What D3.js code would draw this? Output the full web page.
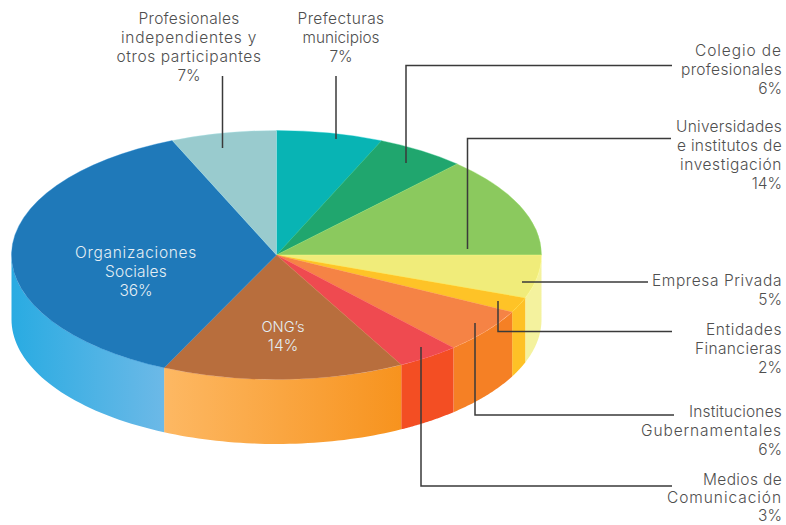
<!DOCTYPE html>
<html><head><meta charset="utf-8">
<script src="https://cdn.jsdelivr.net/npm/d3@7"></script>
<style>html,body{margin:0;background:#fff}svg{display:block}text{font-family:"Inter","Lato",sans-serif;font-weight:300}</style>
</head><body><svg id="c" width="786" height="525"></svg>
<script>
const categories = ["Prefecturas municipios","Colegio de profesionales","Universidades e institutos de investigación","Empresa Privada","Entidades Financieras","Instituciones Gubernamentales","Medios de Comunicación","ONG’s","Organizaciones Sociales","Profesionales independientes y otros participantes"];
const percentLabels = [7,6,14,5,2,6,3,14,36,7];
const drawnShares = [6.48,5.46,13.06,5.6,1.96,5.8,3.84,14.77,36.6,6.43];
const topColors = ["#08b4b4","#20a66e","#8bc95e","#f0ec7a","#fec327","#f58345","#ef4a50","#b86e3d","#1f79b9","#99cbce"];
const wallFrom = ["#08b4b4","#20a66e","#8bc95e","#f4f29e","#fec126","#f58025","#f34e23","#f7931e","#6cb9e7","#99cbce"];
const wallTo   = ["#08b4b4","#20a66e","#8bc95e","#f4f29e","#fec126","#f58025","#f34e23","#fdb863","#29abe2","#99cbce"];
const labelLines = [["Prefecturas","municipios"],["Colegio de","profesionales"],["Universidades","e institutos de","investigación"],["Empresa Privada"],["Entidades","Financieras"],["Instituciones","Gubernamentales"],["Medios de","Comunicación"],["ONG’s"],["Organizaciones","Sociales"],["Profesionales","independientes y","otros participantes"]];
const lineWidths = [[87,77],[87,101],[106,105,102],[130],[76,87],[93,141],[79,115],[43],[122,62],[101,136,145]];
const labelAnchor = [[341,23.5,"middle"],[782,55.5,"end"],[782,131.5,"end"],[782,285.5,"end"],[782,334.5,"end"],[782,416.5,"end"],[782,485,"end"],[283,331.5,"middle"],[136,257.5,"middle"],[189,23.5,"middle"]];
const lineHeights = [19,19,19,19,19,19,18,19,19,19];
const leaders = [
 [[336,139],[336,76]],
 [[406,163],[406,65.5],[672,65.5]],
 [[467.5,249],[467.5,138.5],[671,138.5]],
 [[522,282],[648,282]],
 [[498,301],[498,331.5],[672,331.5]],
 [[475,323],[475,415],[674,415]],
 [[421,347],[421,486],[672,486]],
 [],[],
 [[222.5,148],[222.5,76]]
];
const cx=276.5, cy=255, rx=265, ry=124.5, depth=64.5;
const svg=d3.select("#c"), defs=svg.append("defs");
const pieData=d3.pie().sort(null).value(d=>d)(drawnShares);
const px=a=>cx+rx*Math.sin(a), py=a=>cy-ry*Math.cos(a);

// side walls (front half only)
const wallLine=d3.line().x(d=>d[0]).y(d=>d[1]);
pieData.forEach((p,i)=>{
  const a0=Math.max(p.startAngle,Math.PI/2), a1=Math.min(p.endAngle,3*Math.PI/2);
  if(a1<=a0) return;
  const samples=d3.range(0,41).map(k=>a0+(a1-a0)*k/40);
  const upper=samples.map(a=>[px(a),py(a)]);
  const lower=samples.slice().reverse().map(a=>[px(a),py(a)+depth]);
  const id="w"+i;
  const g=defs.append("linearGradient").attr("id",id).attr("gradientUnits","userSpaceOnUse")
    .attr("x1",px(a0)).attr("x2",px(a1)).attr("y1",0).attr("y2",0);
  g.append("stop").attr("offset",0).attr("stop-color",wallFrom[i]);
  g.append("stop").attr("offset",1).attr("stop-color",wallTo[i]);
  svg.append("path").attr("d",wallLine(upper.concat(lower))+"Z").attr("fill",`url(#${id})`);
});

// top face
const arcGen=d3.arc().innerRadius(0).outerRadius(rx);
const face=svg.append("g").attr("transform",`translate(${cx},${cy}) scale(1,${ry/rx})`);
face.selectAll("path").data(pieData).join("path").attr("d",arcGen)
  .attr("fill",(d,i)=>topColors[i]).attr("stroke",(d,i)=>d3.color(topColors[i]).brighter(0.35)).attr("stroke-width",0.5);

// leaders
leaders.forEach(l=>{ if(!l.length) return;
  svg.append("path").attr("d",wallLine(l)).attr("fill","none").attr("stroke","#3a3a3a").attr("stroke-width",1.5);
});

// labels
const fontSize=15.5;
categories.forEach((c,i)=>{
  const [x,y,anchor]=labelAnchor[i];
  const inside=i===7||i===8;
  const fill=inside?"#e4eef4":"#4f4f4f";
  labelLines[i].concat([percentLabels[i]+"%"]).forEach((s,k)=>{
    const t=svg.append("text").attr("text-anchor",anchor).attr("font-size",fontSize).attr("fill",fill)
      .attr("x",x).attr("y",y+k*lineHeights[i]).text(s);
    const target=lineWidths[i][k];
    if(target){
      const w=t.node().getComputedTextLength();
      if(target<w) t.attr("font-size",(fontSize*target/w).toFixed(2));
      else t.attr("letter-spacing",((target-w)/s.length).toFixed(3));
    }
  });
});
</script></body></html>
